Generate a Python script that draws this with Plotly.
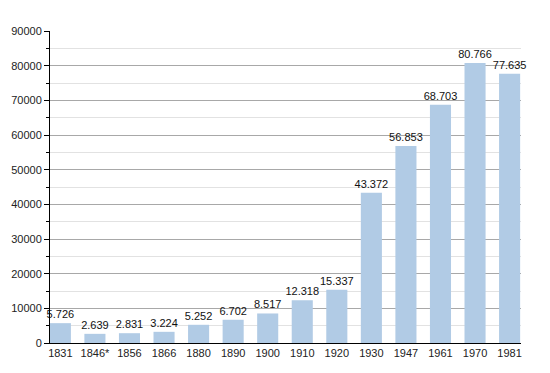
import plotly.graph_objects as go

years = ["1831", "1846*", "1856", "1866", "1880", "1890", "1900", "1910", "1920",
         "1930", "1947", "1961", "1970", "1981"]
population = [5726, 2639, 2831, 3224, 5252, 6702, 8517, 12318, 15337,
              43372, 56853, 68703, 80766, 77635]
y_ticks = [0, 10000, 20000, 30000, 40000, 50000, 60000, 70000, 80000, 90000]

labels = [f"{v:,}".replace(",", ".") for v in population]

fig = go.Figure(go.Bar(
    x=list(range(len(years))),
    y=population,
    text=labels,
    textposition="outside",
    constraintext="none",
    textfont=dict(family="Liberation Sans, Arial, sans-serif", size=11, color="#111"),
    marker=dict(color="#b1cbe5", line=dict(width=0)),
    width=0.61,
    cliponaxis=False,
))

# page body has an 8px default margin, so the figure is sized/shifted to compensate
fig.update_layout(
    width=542, height=365,
    margin=dict(l=42, r=29, t=23, b=30, autoexpand=False),
    plot_bgcolor="white", paper_bgcolor="white",
    showlegend=False,
    font=dict(family="Liberation Sans, Arial, sans-serif", size=11, color="#222"),
    xaxis=dict(
        range=[-0.3, 13.33], automargin=False,
        tickmode="array", tickvals=list(range(len(years))), ticktext=years,
        showgrid=False, showline=True, linecolor="black", linewidth=1,
        ticks="", zeroline=False,
    ),
    yaxis=dict(
        range=[0, 90000], automargin=False,
        tickmode="array", tickvals=y_ticks, tickformat="d",
        showgrid=True, gridcolor="#a8a8a8", gridwidth=1,
        showline=True, linecolor="black", linewidth=1,
        ticks="outside", ticklen=5, tickcolor="black",
        zeroline=False,
        minor=dict(dtick=5000, showgrid=True, gridcolor="#e2e2e2",
                   ticks="outside", ticklen=3, tickcolor="black"),
    ),
)

fig.write_html("out.html")
